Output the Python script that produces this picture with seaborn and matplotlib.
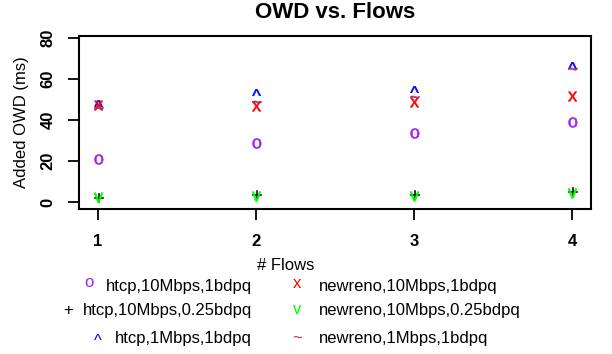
import matplotlib
matplotlib.use("Agg")
import matplotlib.pyplot as plt
import seaborn as sns
import numpy as np
from matplotlib.textpath import TextPath
from matplotlib.font_manager import FontProperties
from matplotlib.path import Path

# data
flows = [1, 2, 3, 4]
htcp_10_1 = [21.0, 28.7, 33.5, 38.9]
htcp_10_025 = [2.0, 3.4, 3.4, 5.1]
htcp_1_1 = [47.0, 52.3, 53.8, 65.5]
newreno_10_1 = [47.5, 47.0, 49.0, 51.8]
newreno_10_025 = [2.5, 3.0, 3.0, 4.6]
newreno_1_1 = [45.0, 48.0, 50.5, 64.0]

labels = ["htcp,10Mbps,1bdpq", "htcp,10Mbps,0.25bdpq", "htcp,1Mbps,1bdpq",
          "newreno,10Mbps,1bdpq", "newreno,10Mbps,0.25bdpq", "newreno,1Mbps,1bdpq"]
glyphs = ["o", "+", "^", "x", "v", "~"]
colors = ["#A020F0", "black", "blue", "red", "#00FF00", "#B03060"]
series = [htcp_10_1, htcp_10_025, htcp_1_1, newreno_10_1, newreno_10_025, newreno_1_1]

FONT = "Liberation Sans"
FS = 12


def glyph_marker(ch, size=13, box=10.0):
    # character outline as a marker, centred on the glyph, fixed scale
    tp = TextPath((0, 0), ch, size=size, prop=FontProperties(family=FONT))
    v = tp.vertices
    c = (v.min(0) + v.max(0)) / 2
    corners = np.array([[-box, -box], [box, box]])
    verts = np.vstack([v - c, corners])
    codes = np.concatenate([tp.codes, [Path.MOVETO, Path.MOVETO]])
    return Path(verts, codes)


sns.set_style("white")
plt.rcParams["font.family"] = [FONT, "DejaVu Sans"]
plt.rcParams["text.color"] = "black"
plt.rcParams["axes.labelcolor"] = "black"
plt.rcParams["xtick.color"] = "black"
plt.rcParams["ytick.color"] = "black"

fig = plt.figure(figsize=(6.12, 3.54), dpi=100)
W, H = 612, 354
ax = fig.add_axes([79 / W, 1 - 209 / H, (591 - 79) / W, (209 - 36) / H])

for vals, g, col in zip(series, glyphs, colors):
    sns.scatterplot(x=flows, y=vals, marker=glyph_marker(g), color=col,
                    edgecolor=col, s=400, linewidth=0.4, ax=ax, zorder=3)

ax.set_xlim(0.88, 4.12)
ax.set_ylim(-3.4, 81.1)
ax.set_xticks(flows)
ax.set_xticklabels([str(f) for f in flows], fontsize=FS, fontweight="bold")
ax.set_yticks([0, 20, 40, 60, 80])
ax.set_yticklabels(["0", "20", "40", "60", "80"], fontsize=FS, fontweight="bold",
                   rotation=90, va="center")
ax.tick_params(axis="x", direction="out", length=8, width=1.3, pad=10, bottom=True)
ax.tick_params(axis="y", direction="out", length=8, width=1.3, pad=9, left=True)
for sp in ax.spines.values():
    sp.set_visible(True)
    sp.set_color("black")
    sp.set_linewidth(1.5)

fig.text(335 / W, 1 - 13 / H, "OWD vs. Flows", ha="center", va="center",
         fontsize=16, fontweight="bold")
fig.text(22 / W, 1 - 122 / H, "Added OWD (ms)", ha="center", va="center",
         rotation=90, fontsize=FS)
fig.text(286 / W, 1 - 266 / H, "# Flows", ha="center", va="center", fontsize=FS)

# legend, drawn as text like the original
label_base = [291, 315, 343]
col1_mark = [(89, 287), (68, 315), (98, 346)]
col2_mark = [(297, 288), (297, 314), (297, 344)]
for i in range(3):
    mx, my = col1_mark[i]
    fig.text(mx / W, 1 - my / H, glyphs[i], color=colors[i], ha="center",
             va="baseline", fontsize=FS)
    fig.text(252 / W, 1 - label_base[i] / H, labels[i], ha="right",
             va="baseline", fontsize=FS)
    mx, my = col2_mark[i]
    fig.text(mx / W, 1 - my / H, glyphs[i + 3], color=colors[i + 3],
             ha="center", va="baseline", fontsize=FS)
    fig.text(319 / W, 1 - label_base[i] / H, labels[i + 3], ha="left",
             va="baseline", fontsize=FS)

fig.savefig("out.png", dpi=100)
